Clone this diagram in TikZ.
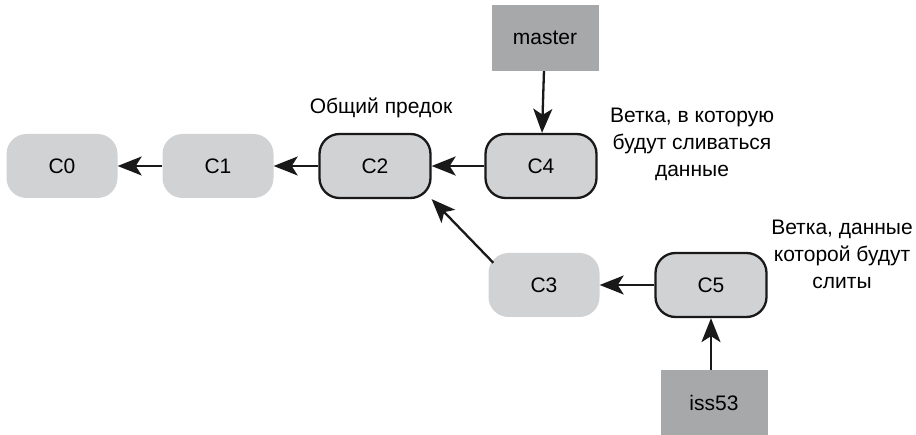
\documentclass[tikz,border=0pt]{standalone}
\usepackage{fontspec}
\setmainfont{Liberation Sans}
\usetikzlibrary{arrows.meta}
\definecolor{commitfill}{HTML}{D1D2D4}
\definecolor{branchfill}{HTML}{A7A8AA}
\begin{document}
\begin{tikzpicture}[x=1pt,y=-1pt,
  commit/.style={rounded corners=20pt,fill=commitfill,minimum width=111pt,minimum height=64pt,inner sep=0pt,font=\fontsize{21}{25}\selectfont},
  commitb/.style={commit,draw=black!90,line width=2.3pt},
  branch/.style={fill=branchfill,minimum width=107pt,minimum height=66pt,inner sep=0pt,font=\fontsize{21}{25}\selectfont},
  lbl/.style={align=center,font=\fontsize{21}{27}\selectfont},
  arr/.style={line width=2.3pt,draw=black!90,-{Stealth[length=24pt,width=19pt,inset=6pt]}}]
\useasboundingbox (0,0) rectangle (916,435);
\node[commit] (c0) at (62,166) {C0};
\node[commit] (c1) at (218,166) {C1};
\node[commitb] (c2) at (375,166) {C2};
\node[commitb] (c4) at (541,166) {C4};
\node[commit] (c3) at (544,285) {C3};
\node[commitb] (c5) at (711,285) {C5};
\node[branch] (master) at (545,38) {master};
\node[branch] (iss) at (714,403) {iss53};
\node[lbl] (anc) at (381,108) {Общий предок};
\node[lbl] (t1) at (692,144) {Ветка, в которую\\будут сливаться\\данные};
\node[lbl] (t2) at (842,254) {Ветка, данные\\которой будут\\слиты};
\draw[arr] (c1) -- (c0);
\draw[arr] (c2) -- (c1);
\draw[arr] (c4) -- (c2);
\draw[arr] (c5) -- (c3);
\draw[arr] (master) -- (c4);
\draw[arr] (iss.north -| c5.south) -- (c5.south);
\draw[arr] (c3.north west) ++(5,10) coordinate (c3a) (c3a) -- (c2.south east);
\end{tikzpicture}
\end{document}
